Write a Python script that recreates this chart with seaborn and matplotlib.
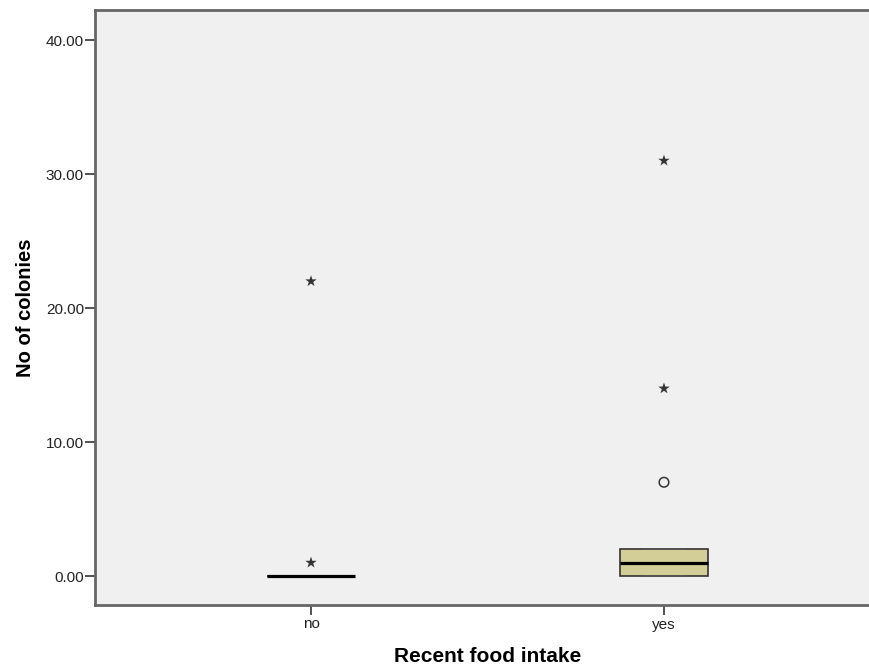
import numpy as np
import pandas as pd
import matplotlib
matplotlib.use("Agg")
import matplotlib.pyplot as plt
import seaborn as sns

# ---- data ----
categories = ["no", "yes"]
counts_no = [0, 0, 0, 0, 0, 0, 0, 0, 0, 0, 0, 0, 1, 22]
counts_yes = [0, 0, 0, 0, 0, 1, 1, 1, 1, 2, 2, 2, 2, 2, 7, 14, 31]
y_ticks = [0, 10, 20, 30, 40]
y_label = "No of colonies"
x_label = "Recent food intake"

df = pd.DataFrame({
    "group": ["no"] * len(counts_no) + ["yes"] * len(counts_yes),
    "value": counts_no + counts_yes,
})

# SPSS-style classification: outliers (>1.5 IQR, circles), extremes (>3 IQR, stars)
rows = []
for g in categories:
    v = df.loc[df.group == g, "value"].to_numpy(float)
    q1, q3 = np.percentile(v, [25, 75])
    iqr = q3 - q1
    for x in v:
        if x > q3 + 3 * iqr or x < q1 - 3 * iqr:
            rows.append((g, x, "extreme"))
        elif x > q3 + 1.5 * iqr or x < q1 - 1.5 * iqr:
            rows.append((g, x, "outlier"))
flier = pd.DataFrame(rows, columns=["group", "value", "kind"])

sns.set_theme(style="white")
plt.rcParams["font.family"] = ["Liberation Sans", "DejaVu Sans"]

fig = plt.figure(figsize=(8.70, 6.69), dpi=100)
ax = fig.add_axes([95 / 870, 1 - 605 / 669, (880 - 95) / 870, (605 - 10) / 669])
ax.set_facecolor("#F0F0F0")

sns.boxplot(data=df, x="group", y="value", order=categories, ax=ax,
            width=0.25, whis=1.5, showfliers=False, color="#D3CE97",
            saturation=1, linewidth=1.2, linecolor="#333333",
            medianprops=dict(color="black", linewidth=2.3),
            capprops=dict(color="#555555"), whiskerprops=dict(color="#333333"))

ext = flier[flier.kind == "extreme"]
out = flier[flier.kind == "outlier"]
sns.scatterplot(data=ext, x="group", y="value", marker="*", s=75,
                color="#333333", edgecolor="none", ax=ax, legend=False)
sns.scatterplot(data=out, x="group", y="value", marker="o", s=48,
                facecolor="none", edgecolor="#333333", linewidth=1.1, ax=ax, legend=False)

ax.set_xlim(-0.612, 1.612)
ax.set_ylim(-2.16, 42.24)
ax.set_yticks(y_ticks)
ax.set_yticklabels([f"{t:.2f}" for t in y_ticks])
ax.tick_params(axis="y", direction="out", length=7, width=1.2, color="#333333",
               labelsize=11, labelcolor="#222222", pad=1, left=True)
ax.tick_params(axis="x", direction="out", length=7, width=1.2, color="#333333",
               labelsize=11, labelcolor="#222222", pad=2, bottom=True)

for s in ax.spines.values():
    s.set_color("#666666")
    s.set_linewidth(2)

ax.set_xlabel(x_label, fontsize=15, fontweight="bold", labelpad=11, color="black")
ax.set_ylabel(y_label, fontsize=14.5, fontweight="bold", labelpad=8, color="black")

fig.savefig("out.png", dpi=100, facecolor="white")
